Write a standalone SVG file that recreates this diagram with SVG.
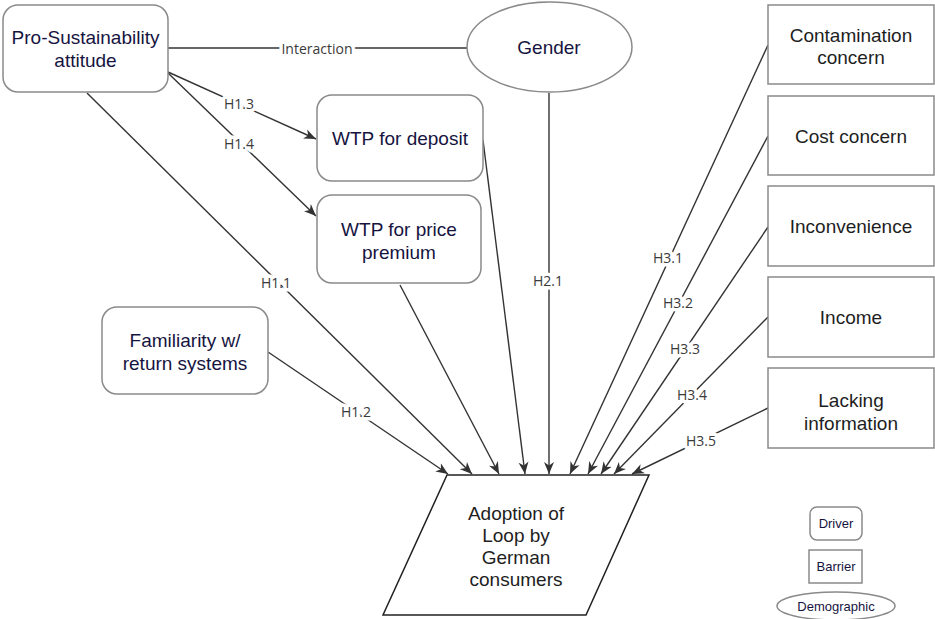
<svg xmlns="http://www.w3.org/2000/svg" width="935" height="619" viewBox="0 0 935 619">
<defs>
<marker id="arr" markerUnits="userSpaceOnUse" markerWidth="13" markerHeight="11" refX="12" refY="5.5" orient="auto">
<path d="M0,0.5 L12,5.5 L0,10.5 L3.5,5.5 Z" fill="#333"/>
</marker>
<style>
.box{fill:#fff;stroke:#8a8a8a;stroke-width:1.5}
.drv{font-family:"Liberation Sans",Arial,sans-serif;font-size:19px;fill:#16143f;text-anchor:middle}
.bar{font-family:"Liberation Sans",Arial,sans-serif;font-size:19px;fill:#1e1e1e;text-anchor:middle}
.leg{font-family:"Liberation Sans",Arial,sans-serif;font-size:13px;fill:#16143f;text-anchor:middle}
.edge{fill:none;stroke:#333;stroke-width:1.4}
.arr{marker-end:url(#arr)}
.lbl{font-family:"Open Sans","DejaVu Sans",sans-serif;font-size:14px;fill:#3a3a3a;text-anchor:middle;dominant-baseline:central;stroke:#fff;stroke-width:7;paint-order:stroke;stroke-linejoin:round}
</style>
</defs>
<rect width="935" height="619" fill="#fff"/>
<g id="connectors">
<line class="edge" x1="168" y1="48" x2="467" y2="48"/>
<line class="edge arr" x1="168" y1="72" x2="316" y2="139"/>
<line class="edge arr" x1="168" y1="73" x2="316" y2="216"/>
<line class="edge arr" x1="87" y1="93" x2="472" y2="474"/>
<line class="edge arr" x1="268" y1="352" x2="448" y2="474"/>
<line class="edge arr" x1="400" y1="285" x2="499" y2="474"/>
<line class="edge arr" x1="483" y1="140" x2="525" y2="474"/>
<line class="edge arr" x1="549" y1="93" x2="549" y2="474"/>
<line class="edge arr" x1="768" y1="45" x2="570" y2="474"/>
<line class="edge arr" x1="768" y1="136" x2="588" y2="474"/>
<line class="edge arr" x1="768" y1="227" x2="601" y2="474"/>
<line class="edge arr" x1="768" y1="317" x2="614" y2="474"/>
<line class="edge arr" x1="768" y1="408" x2="632" y2="474"/>
<text class="lbl" x="317" y="48">Interaction</text>
<text class="lbl" x="239" y="103">H1.3</text>
<text class="lbl" x="239" y="143">H1.4</text>
<text class="lbl" x="276" y="282">H1.1</text>
<text class="lbl" x="356" y="411">H1.2</text>
<text class="lbl" x="548" y="280">H2.1</text>
<text class="lbl" x="668" y="257">H3.1</text>
<text class="lbl" x="678" y="302">H3.2</text>
<text class="lbl" x="685" y="348">H3.3</text>
<text class="lbl" x="692" y="394">H3.4</text>
<text class="lbl" x="701" y="440">H3.5</text>
</g>
<g id="pro-sustainability">
<rect class="box" x="3" y="5" width="165" height="87" rx="15"/>
<text class="drv" x="85.5" y="44">Pro-Sustainability</text>
<text class="drv" x="85.5" y="67">attitude</text>
</g>
<g id="gender">
<ellipse class="box" cx="549.5" cy="47" rx="82.5" ry="45"/>
<text class="drv" x="549" y="54">Gender</text>
</g>
<g id="wtp-deposit">
<rect class="box" x="317" y="95" width="166" height="86" rx="15"/>
<text class="drv" x="400" y="145">WTP for deposit</text>
</g>
<g id="wtp-premium">
<rect class="box" x="317" y="195" width="164" height="88" rx="15"/>
<text class="drv" x="399" y="236">WTP for price</text>
<text class="drv" x="399" y="259">premium</text>
</g>
<g id="familiarity">
<rect class="box" x="102" y="307" width="166" height="87" rx="15"/>
<text class="drv" x="185" y="347">Familiarity w/</text>
<text class="drv" x="185" y="370">return systems</text>
</g>
<g id="contamination">
<rect class="box" x="768" y="5" width="166" height="79"/>
<text class="bar" x="851" y="42">Contamination</text>
<text class="bar" x="851" y="64">concern</text>
</g>
<g id="cost">
<rect class="box" x="768" y="96" width="166" height="79"/>
<text class="bar" x="851" y="143">Cost concern</text>
</g>
<g id="inconvenience">
<rect class="box" x="768" y="186" width="166" height="80"/>
<text class="bar" x="851" y="233">Inconvenience</text>
</g>
<g id="income">
<rect class="box" x="768" y="277" width="166" height="80"/>
<text class="bar" x="851" y="324">Income</text>
</g>
<g id="lacking">
<rect class="box" x="768" y="368" width="166" height="80"/>
<text class="bar" x="851" y="407">Lacking</text>
<text class="bar" x="851" y="430">information</text>
</g>
<g id="adoption">
<polygon points="447,475 649,475 586,615 383,615" fill="#fff" stroke="#222" stroke-width="1.5"/>
<text class="bar" x="516" y="520">Adoption of</text>
<text class="bar" x="516" y="542">Loop by</text>
<text class="bar" x="516" y="564">German</text>
<text class="bar" x="516" y="586">consumers</text>
</g>
<g id="legend-driver">
<rect class="box" x="810" y="507" width="52" height="33" rx="7"/>
<text class="leg" x="836" y="528">Driver</text>
</g>
<g id="legend-barrier">
<rect class="box" x="809" y="550" width="53" height="33"/>
<text class="leg" x="836" y="571">Barrier</text>
</g>
<g id="legend-demographic">
<ellipse class="box" cx="836" cy="606" rx="59" ry="14"/>
<text class="leg" x="836" y="611">Demographic</text>
</g>
</svg>
